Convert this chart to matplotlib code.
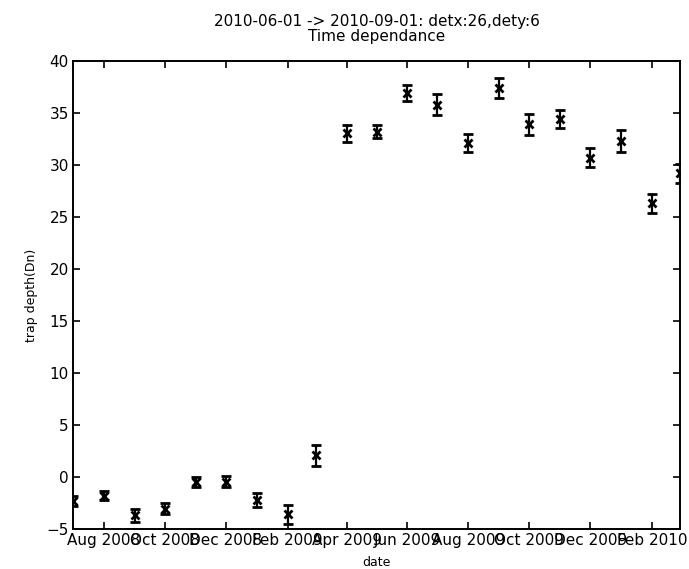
import datetime as dt
import numpy as np
import matplotlib
matplotlib.use("Agg")
import matplotlib.pyplot as plt
import matplotlib.dates as mdates

# monthly measurements, Jul 2008 .. Mar 2010
months = ["2008-07", "2008-08", "2008-09", "2008-10", "2008-11", "2008-12",
          "2009-01", "2009-02", "2009-03", "2009-04", "2009-05", "2009-06",
          "2009-07", "2009-08", "2009-09", "2009-10", "2009-11", "2009-12",
          "2010-01", "2010-02", "2010-03"]
depth = [-2.3, -1.8, -3.7, -3.05, -0.5, -0.45, -2.2, -3.6, 2.1, 33.05, 33.2,
         36.9, 35.8, 32.1, 37.4, 33.9, 34.4, 30.7, 32.3, 26.3, 29.2]
err = [0.5, 0.45, 0.6, 0.55, 0.5, 0.5, 0.7, 0.9, 1.0, 0.8, 0.6,
       0.8, 1.0, 0.9, 1.0, 1.0, 0.85, 0.9, 1.05, 0.9, 0.9]

dates = [dt.datetime.strptime(m + "-01", "%Y-%m-%d") for m in months]

plt.rcParams['font.family'] = ['DejaVu Sans']
fig = plt.figure(figsize=(6.89, 5.69), dpi=100)
ax = fig.add_axes([0.106, 0.0703, 0.881, 0.8227])

ax.errorbar(dates, depth, yerr=err, fmt='x', color='k', ecolor='k',
            markersize=6, markeredgewidth=2, capsize=3.5, elinewidth=1.6,
            capthick=1.6)

ax.set_xlim(dates[0], dates[-1])
ax.set_ylim(-5, 40)
ax.set_yticks(np.arange(-5, 41, 5))

ax.xaxis.set_major_locator(mdates.MonthLocator(bymonth=[2, 4, 6, 8, 10, 12]))
ax.xaxis.set_major_formatter(mdates.DateFormatter("%b %Y"))

ax.tick_params(direction='in', top=True, right=True, length=5, width=1.2,
               labelsize=11, pad=3)
for s in ax.spines.values():
    s.set_linewidth(1.4)

ax.set_xlabel("date", fontsize=9, labelpad=6)
ax.set_ylabel("trap depth(Dn)", fontsize=9, labelpad=6)
ax.set_title("2010-06-01 -> 2010-09-01: detx:26,dety:6\nTime dependance",
             fontsize=11, linespacing=1.0, pad=14)

fig.savefig("out.png", dpi=100, facecolor='white')
